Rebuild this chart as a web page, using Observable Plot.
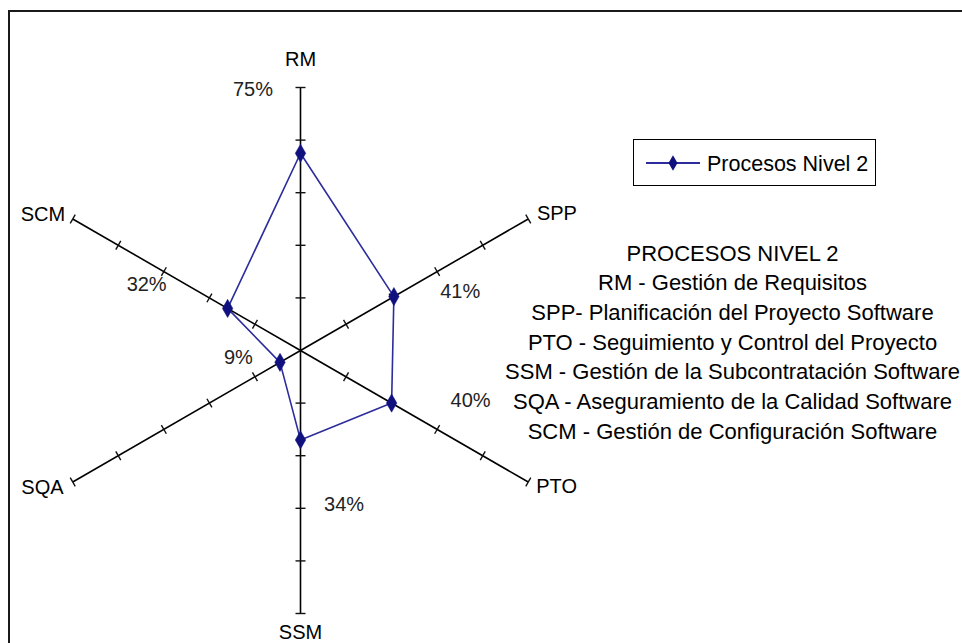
<!DOCTYPE html>
<html>
<head>
<meta charset="utf-8">
<script src="https://cdn.jsdelivr.net/npm/d3@7"></script>
<script src="https://cdn.jsdelivr.net/npm/@observablehq/plot@0.6"></script>
<style>
  html, body { margin: 0; padding: 0; background: #fff; }
  #wrap { position: relative; width: 962px; height: 643px; overflow: hidden;
          font-family: "Liberation Sans", Arial, sans-serif; }
  #wrap svg.plot { position: absolute; left: 0; top: 0; }
  #border { position: absolute; left: 8px; top: 10px; width: 1000px; height: 700px;
            border-left: 2px solid #1a1a1a; border-top: 2px solid #1a1a1a; pointer-events: none; }
  #legend { position: absolute; left: 633px; top: 139px; width: 241px; height: 45px;
            border: 1px solid #000; background: #fff; }
  #legend svg { position: absolute; left: 0; top: 0; }
</style>
</head>
<body>
<div id="wrap">
  <div id="border"></div>
  <div id="chart"></div>
  <div id="legend"></div>
</div>
<script>
// Process areas (axes, clockwise from the top) and their level-2 scores
const processes = ["RM", "SPP", "PTO", "SSM", "SQA", "SCM"];
const scores = [0.75, 0.41, 0.40, 0.34, 0.09, 0.32];
const scoreLabels = ["75%", "41%", "40%", "34%", "9%", "32%"];
const gridTicks = [0.2, 0.4, 0.6, 0.8, 1.0];
const seriesName = "Procesos Nivel 2";
const glossaryTitle = "PROCESOS NIVEL 2";
const glossary = [
  "RM - Gestión de Requisitos",
  "SPP- Planificación del Proyecto Software",
  "PTO - Seguimiento y Control del Proyecto",
  "SSM - Gestión de la Subcontratación Software",
  "SQA - Aseguramiento de la Calidad Software",
  "SCM - Gestión de Configuración Software"
];

// Layout
const W = 962, H = 643;
const CX = 300, CY = 350, R = 263;          // centre and radius of the radar, px
const FONT = "Liberation Sans, Arial, sans-serif";
const LINE = "#2c2c9c", MARK = "#10107e";
// where each score label sits: [radius, angle in degrees clockwise from top]
const scoreLabelSpots = [[1.010, -10.3], [0.648, 69.6], [0.674, 106.4], [0.609, 164.2], [0.238, 263.1], [0.636, 293.1]];
// axis name placement: radius and text anchor
const nameSpots = [[1.107, "middle"], [1.038, "start"], [1.035, "start"], [1.074, "middle"], [1.040, "end"], [1.033, "end"]];

const rad = deg => deg * Math.PI / 180;
const angleOf = i => i * Math.PI / 3;
const polar = (r, a) => ({x: r * Math.sin(a), y: r * Math.cos(a)});

const axes = processes.map((p, i) => ({name: p, ...polar(1, angleOf(i))}));

const tickHalf = 5 / R;
const tickSegs = processes.flatMap((p, i) => gridTicks.map(t => {
  const a = angleOf(i);
  const c = polar(t, a);
  const nx = Math.cos(a), ny = -Math.sin(a);
  return {x1: c.x - nx * tickHalf, y1: c.y - ny * tickHalf, x2: c.x + nx * tickHalf, y2: c.y + ny * tickHalf};
}));

const points = processes.map((p, i) => ({name: p, value: scores[i], ...polar(scores[i], angleOf(i))}));
const ring = [...points, points[0]];

const scoreText = scoreLabels.map((s, i) => ({label: s, ...polar(scoreLabelSpots[i][0], rad(scoreLabelSpots[i][1]))}));
const names = processes.map((p, i) => ({name: p, anchor: nameSpots[i][1], ...polar(nameSpots[i][0], angleOf(i))}));

const nameMark = anchor => Plot.text(names.filter(d => d.anchor === anchor), {
  x: "x", y: "y", text: "name", textAnchor: anchor, fontSize: 20, fill: "#000"
});

const chart = Plot.plot({
  width: W, height: H, margin: 0,
  style: {fontFamily: FONT, background: "transparent", overflow: "visible"},
  x: {domain: [-CX / R, (W - CX) / R], range: [0, W], axis: null},
  y: {domain: [-(H - CY) / R, CY / R], range: [H, 0], axis: null},
  marks: [
    Plot.link(axes, {x1: 0, y1: 0, x2: "x", y2: "y", stroke: "#000", strokeWidth: 1.6}),
    Plot.link(tickSegs, {x1: "x1", y1: "y1", x2: "x2", y2: "y2", stroke: "#111", strokeWidth: 1.4}),
    Plot.line(ring, {x: "x", y: "y", stroke: LINE, strokeWidth: 1.6, curve: "linear"}),
    Plot.dot(points, {x: "x", y: "y", symbol: "diamond", r: 5.5, fill: MARK, stroke: MARK, strokeWidth: 0.5}),
    Plot.text(scoreText, {x: "x", y: "y", text: "label", fontSize: 20, fill: "#222"}),
    nameMark("middle"), nameMark("start"), nameMark("end"),
    // glossary block to the right of the radar
    Plot.text([[glossaryTitle, ...glossary].join("\n")], {
      frameAnchor: "top-left", dx: 732, dy: 239, text: d => d, textAnchor: "middle",
      lineAnchor: "top", lineHeight: 1.35, fontSize: 22, fill: "#000"
    })
  ]
});
document.getElementById("chart").appendChild(chart);

// Legend: series swatch (line + diamond) and name
const lg = d3.select("#legend").append("svg").attr("width", 241).attr("height", 45);
lg.append("line").attr("x1", 12).attr("x2", 66).attr("y1", 23).attr("y2", 23)
  .attr("stroke", LINE).attr("stroke-width", 1.8);
lg.append("path").attr("d", d3.symbol(d3.symbolDiamond, 70)()).attr("transform", "translate(39,23)")
  .attr("fill", MARK);
lg.append("text").attr("x", 73).attr("y", 23).attr("dy", "0.35em").text(seriesName)
  .attr("font-family", FONT).attr("font-size", 21.5).attr("fill", "#000");
</script>
</body>
</html>
